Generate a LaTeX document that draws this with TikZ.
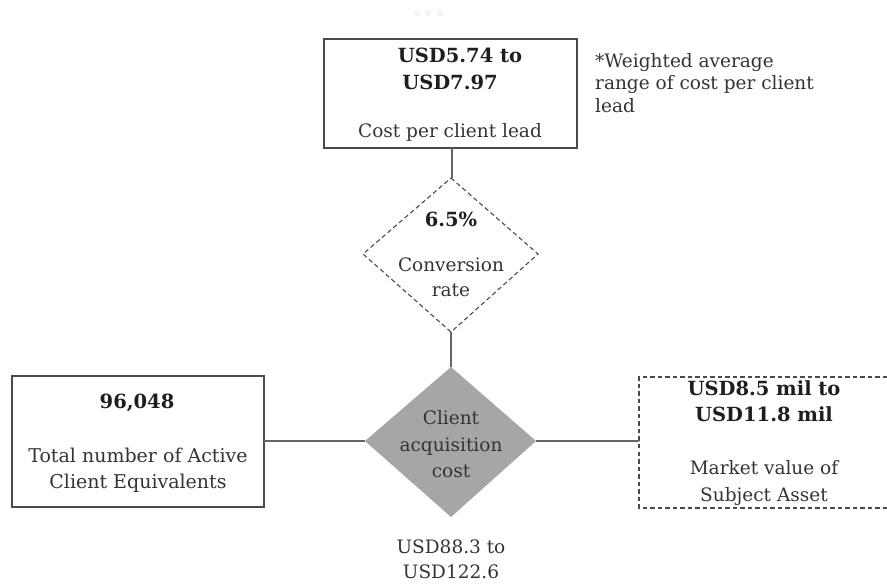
\documentclass[tikz,border=0pt]{standalone}
\usepackage{fontspec}
\setmainfont{DejaVu Serif}
\definecolor{inkline}{HTML}{4A4A4A}
\definecolor{inktext}{HTML}{333333}
\definecolor{inkbold}{HTML}{1E1E1E}
\definecolor{diamondfill}{HTML}{A6A6A6}
\tikzset{
  x=1pt, y=-1pt,
  txt/.style={text=inktext, font=\fontsize{18.5}{25}\selectfont, inner sep=0pt, anchor=base},
  btxt/.style={text=inkbold, font=\fontsize{19.5}{25}\selectfont\bfseries, inner sep=0pt, anchor=base},
  solidbox/.style={draw=inkline, line width=1.2pt},
  dashbox/.style={draw=inkline, line width=1.1pt, dash pattern=on 4.5pt off 3pt},
  link/.style={draw=inkline!85, line width=1.5pt},
}
\begin{document}
\begin{tikzpicture}
\useasboundingbox (0,0) rectangle (887,585);

% faint marker at the top
\foreach \px in {417,428,440} \fill[black!4] (\px-3,10) rectangle (\px+3,16);

% boxes
\path[solidbox] (324,39) rectangle (577,148);
\path[solidbox] (12,376) rectangle (264,507);
\path[dashbox] (887,377) -- (639,377) -- (639,508) -- (887,508);

% diamonds
\path[dashbox] (451,178) -- (538,254) -- (451,332) -- (363,254) -- cycle;
\fill[diamondfill] (451,367) -- (536,441) -- (451,517) -- (365,441) -- cycle;

% anchor coordinates
\coordinate (topB) at (452,148);
\coordinate (convT) at (452,178);
\coordinate (convB) at (451,332);
\coordinate (cacT) at (451,367);
\coordinate (cacL) at (365,441);
\coordinate (cacR) at (536,441);
\coordinate (leftR) at (264,441);
\coordinate (rightL) at (639,441);

% connectors
\draw[link] (topB) -- (convT);
\draw[link] (convB) -- (cacT);
\draw[link] (leftR) -- (cacL);
\draw[link] (cacR) -- (rightL);

% cost per client lead
\node[btxt] (cplv1) at (460,63) {USD5.74 to};
\node[btxt] (cplv2) at (450,90) {USD7.97};
\node[txt] (cplt) at (450,138) {Cost per client lead};

% footnote
\node[txt, anchor=base west] (note1) at (595,68) {*Weighted average};
\node[txt, anchor=base west] (note2) at (595,90) {range of cost per client};
\node[txt, anchor=base west] (note3) at (595,113) {lead};

% conversion rate
\node[btxt] (convv) at (451,227) {6.5\%};
\node[txt] (convt1) at (451,272) {Conversion};
\node[txt] (convt2) at (451,297) {rate};

% client acquisition cost
\node[txt] (cac1) at (451,425) {Client};
\node[txt] (cac2) at (451,452) {acquisition};
\node[txt] (cac3) at (451,478) {cost};
\node[txt] (cacv1) at (451,553) {USD88.3 to};
\node[txt] (cacv2) at (451,578) {USD122.6};

% active client equivalents
\node[btxt] (acev) at (137,409) {96,048};
\node[txt, font=\fontsize{19}{25}\selectfont] (acet1) at (138,462) {Total number of Active};
\node[txt, font=\fontsize{19}{25}\selectfont] (acet2) at (138,488) {Client Equivalents};

% market value
\node[btxt] (mvv1) at (764,396) {USD8.5 mil to};
\node[btxt] (mvv2) at (764,422) {USD11.8 mil};
\node[txt] (mvt1) at (764,475) {Market value of};
\node[txt] (mvt2) at (764,501) {Subject Asset};
\end{tikzpicture}
\end{document}
